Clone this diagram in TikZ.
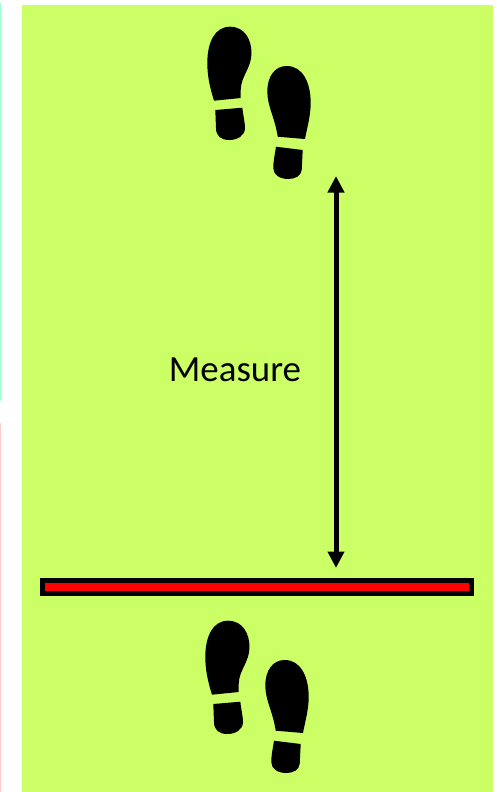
\documentclass[tikz,border=0pt]{standalone}
\usepackage{fontspec}
\setmainfont{Carlito}
\usetikzlibrary{arrows.meta}
\definecolor{lawn}{HTML}{CCFF66}
\definecolor{stripcyan}{HTML}{99FFCC}
\definecolor{strippink}{HTML}{FFCCCC}
\tikzset{
  x=0.02cm, y=-0.02cm,
  lawnbox/.style={draw=none, fill=lawn, inner sep=0pt, minimum width=9.42cm, minimum height=15.74cm},
  stripbox/.style={draw=none, inner sep=0pt, minimum width=0.03cm},
  takeoff/.style={draw=black, fill=red, line width=0.1cm, inner sep=0pt, minimum width=8.58cm, minimum height=0.26cm},
  flow/.style={{Triangle[length=0.33cm,width=0.32cm]}-{Triangle[length=0.33cm,width=0.32cm]}, line width=0.1cm},
  label/.style={font=\fontsize{21}{25}\selectfont, inner sep=0pt},
  shoes/.pic={
    \fill[black] (214,100.7) .. controls (210,88) and (207.3,76) .. (207.3,63) .. controls (207.3,42) and (215,26.7) .. (230,26.7)
      .. controls (245,26.7) and (251.5,40) .. (251.5,53) .. controls (251.5,68) and (241,76) .. (240.7,90) -- (240.7,98) -- cycle;
    \fill[black] (215.3,110) -- (242.3,107.7) .. controls (243,115) and (245,122) .. (245,128)
      .. controls (245,136) and (237,140) .. (229.3,140) .. controls (221,140) and (216,136) .. (216,128) -- cycle;
    \fill[black] (277.7,136.7) .. controls (275,118) and (267.3,106) .. (267.3,91.7) .. controls (267.3,76) and (275,66) .. (286.7,66)
      .. controls (303,66) and (310.7,83) .. (310.7,103) .. controls (310.7,116) and (307,128) .. (305,139) -- cycle;
    \fill[black] (276,146.7) -- (302.7,150) -- (301.7,170) .. controls (301,176) and (295,179) .. (288.3,179)
      .. controls (280,179) and (273.3,175) .. (273.3,168) .. controls (273.3,160) and (275,154) .. (276,146.7) -- cycle;
  },
}
\begin{document}
\begin{tikzpicture}
    \useasboundingbox (0,0) rectangle (497,792);
    % background
    \node[lawnbox] (lawnarea) at (257.5,398.5) {};
    \node[stripbox, fill=stripcyan, minimum height=7.96cm] (stripa) at (0.75,202) {};
    \node[stripbox, fill=strippink, minimum height=7.38cm] (stripb) at (0.75,607.5) {};
    % feet
    \pic (upper) at (0,0) {shoes};
    \pic (lower) at (-2,594) {shoes};
    % line and arrow
    \node[takeoff] (bar) at (257,587) {};
    \coordinate (jumptop) at (336,176);
    \coordinate (jumpend) at (336,568);
    \draw[flow] (jumptop) -- (jumpend);
    \node[label] (measure) at (235,370) {Measure};
  \end{tikzpicture}
\end{document}
